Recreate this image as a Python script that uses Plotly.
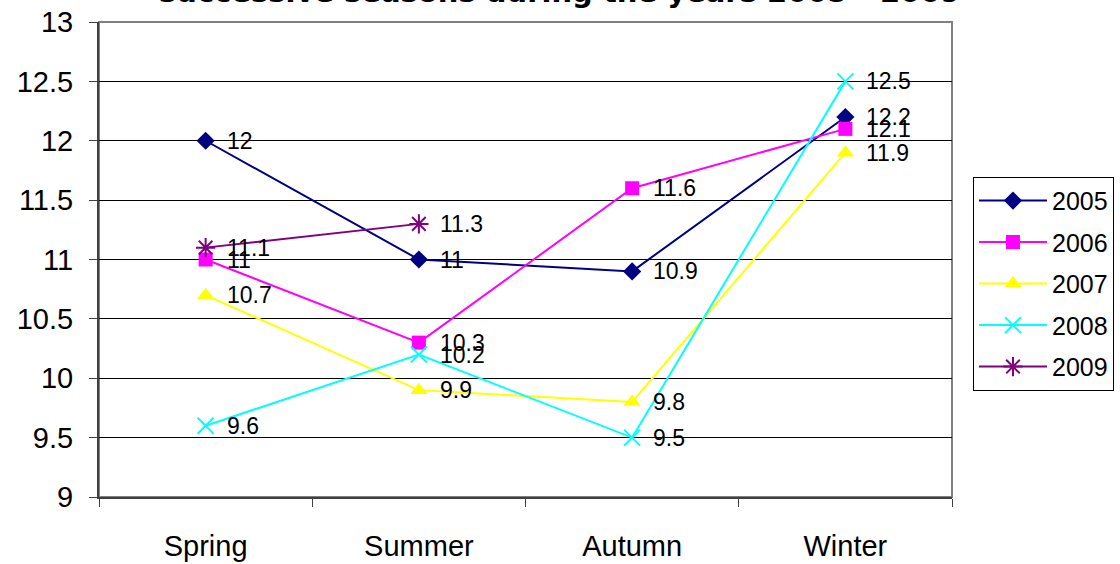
import plotly.graph_objects as go

seasons = ["Spring", "Summer", "Autumn", "Winter"]
years = ["2005", "2006", "2007", "2008", "2009"]
v2005 = [12.0, 11.0, 10.9, 12.2]
v2006 = [11.0, 10.3, 11.6, 12.1]
v2007 = [10.7, 9.9, 9.8, 11.9]
v2008 = [9.6, 10.2, 9.5, 12.5]
v2009 = [11.1, 11.3, None, None]
title_text = "successive seasons during the years 2005 - 2009"
y_ticks = [9, 9.5, 10, 10.5, 11, 11.5, 12, 12.5, 13]

series = [v2005, v2006, v2007, v2008, v2009]
colors = ["#000080", "#FF00FF", "#FFFF00", "#00FFFF", "#800080"]
symbols = ["diamond", "square", "triangle-up", "x-thin", "asterisk"]
sizes = [14, 14, 15, 16, 16]

FONT = "Liberation Sans, Arial, sans-serif"

fig = go.Figure()
annotations = []
for name, vals, col, sym, sz in zip(years, series, colors, symbols, sizes):
    open_sym = sym in ("x-thin", "asterisk")
    fig.add_trace(go.Scatter(
        x=seasons, y=vals, name=name, mode="lines+markers",
        legendgroup=name,
        line=dict(color=col, width=2),
        marker=dict(symbol=sym, size=sz, color=col,
                    line=dict(color=col, width=2 if open_sym else 0)),
        connectgaps=False,
    ))
    for s, v in zip(seasons, vals):
        if v is None:
            continue
        annotations.append(dict(
            x=s, y=v, xref="x", yref="y", text=f"{v:g}", showarrow=False,
            xanchor="left", yanchor="middle", xshift=19,
            font=dict(family=FONT, size=23, color="black"),
        ))

annotations.append(dict(
    x=0.5, y=1, xref="paper", yref="paper", text=f"<b>{title_text}</b>",
    showarrow=False, xanchor="center", yanchor="bottom", yshift=11, xshift=34,
    font=dict(family="DejaVu Sans, sans-serif", size=29, color="black"),
))

fig.update_layout(
    width=1120, height=564,
    margin=dict(l=99, r=168, t=22, b=67, pad=0, autoexpand=False),
    paper_bgcolor="white", plot_bgcolor="white",
    font=dict(family=FONT, color="black"),
    annotations=annotations,
    showlegend=True,
    legend=dict(
        x=1.0246, y=0.674, xanchor="left", yanchor="top",
        bordercolor="black", borderwidth=1, bgcolor="white",
        font=dict(family=FONT, size=25, color="black"),
        tracegroupgap=6, itemwidth=68,
    ),
    shapes=[dict(type="rect", xref="paper", yref="paper", x0=0, y0=0, x1=1, y1=1,
                 line=dict(color="#808080", width=2), layer="below")],
)

fig.update_xaxes(
    type="category", range=[-0.5, 3.5], tickson="boundaries",
    ticks="outside", ticklen=8, tickcolor="#404040", tickwidth=1,
    showgrid=False, showline=True, linecolor="#404040", linewidth=2,
    tickfont=dict(family=FONT, size=29, color="black"),
    ticklabelstandoff=22, zeroline=False, automargin=False,
)
fig.update_yaxes(
    range=[9, 13], tickvals=y_ticks, ticktext=[f"{t:g}" for t in y_ticks],
    ticks="outside", ticklen=8, tickcolor="#404040", tickwidth=1,
    showgrid=True, gridcolor="black", gridwidth=1,
    showline=True, linecolor="#404040", linewidth=2,
    tickfont=dict(family=FONT, size=29, color="black"),
    ticklabelstandoff=10, zeroline=False, automargin=False,
)

fig.write_html("out.html")
